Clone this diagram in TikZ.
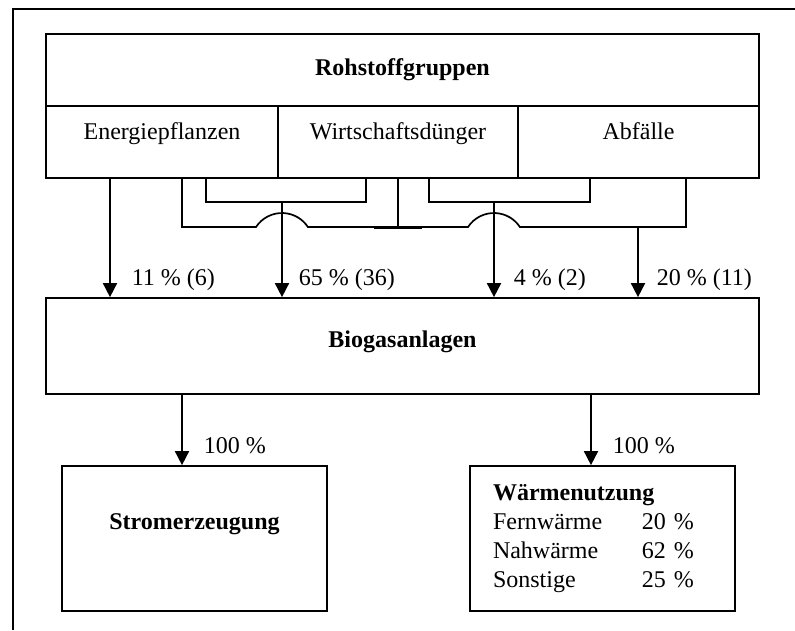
\documentclass[tikz,border=0pt]{standalone}
\usepackage{fontspec}
\setmainfont{Liberation Serif}
\usepackage{tikz}
\usetikzlibrary{arrows.meta,calc}

\begin{document}
\begin{tikzpicture}[
  x=1pt, y=-1pt,
  line width=1.7pt,
  font=\fontsize{24}{29}\selectfont,
  cell/.style={draw, inner sep=0pt, minimum height=72pt},
  subcell/.style={draw, inner xsep=0pt, inner ysep=0pt, minimum width=#1, text height=33pt, text depth=39pt},
  bigbox/.style={draw, inner sep=0pt, minimum width=265pt, minimum height=145pt},
  pct/.style={inner sep=0pt, anchor=base west},
  hop/.style={start angle=146.6, end angle=33.4, radius=31.1pt},
  arrow/.style={-{Triangle[length=14pt,width=14pt]}}
]
  \useasboundingbox (0,0) rectangle (795,630);
  % frame (cut off at right and bottom)
  \draw (13,630) -- (13,9) -- (795,9);

  % Rohstoffgruppen
  \node[cell, minimum width=713pt] (rohstoff) at (402.5,70) {\bfseries Rohstoffgruppen};
  \node[subcell=232pt] (energie) at (162,142) {Energiepflanzen};
  \node[subcell=240pt] (wirtschaft) at (398,142) {Wirtschaftsdünger};
  \node[subcell=241pt] (abfall) at (638.5,142) {Abfälle};

  \node[draw, inner xsep=0pt, inner ysep=0pt, minimum width=713pt, text height=49pt, text depth=47pt] (biogas) at (402.5,346) {\bfseries Biogasanlagen};

  \node[bigbox, inner ysep=0pt, text height=63pt, text depth=82pt] (strom) at (194.5,538.5) {\bfseries Stromerzeugung};
  \node[bigbox, text width=219pt, inner xsep=23pt, align=left] (waerme) at (602.5,538.5)
    {\textbf{Wärmenutzung}\\
     \makebox[149pt][l]{Fernwärme}20 \%\\
     \makebox[149pt][l]{Nahwärme}62 \%\\
     \makebox[149pt][l]{Sonstige}25 \%};

  % columns and rails
  \coordinate (c1) at (110,0);
  \coordinate (c2) at (182,0);
  \coordinate (c3) at (206,0);
  \coordinate (c4) at (282,0);
  \coordinate (c5) at (366,0);
  \coordinate (c6) at (398,0);
  \coordinate (c7) at (429,0);
  \coordinate (c8) at (494,0);
  \coordinate (c9) at (590,0);
  \coordinate (c10) at (638,0);
  \coordinate (c11) at (686,0);
  \coordinate (railA) at (0,202);
  \coordinate (railB) at (0,227);
  \coordinate (d1) at (182,0);
  \coordinate (d2) at (591,0);

  \draw[arrow] (energie.south -| c1) -- (biogas.north -| c1);
  \draw (energie.south -| c3) |- (railA -| c5) -- (wirtschaft.south -| c5);
  \draw (wirtschaft.south -| c7) |- (railA -| c9) -- (abfall.south -| c9);
  \draw (energie.south -| c2) |- ($(railB -| c4)+(-26,0)$) arc[hop]
    -- ($(railB -| c8)+(-26,0)$) arc[hop]
    -| (abfall.south -| c11);
  \draw (wirtschaft.south -| c6) -- (railB -| c6);
  \draw[line width=3pt] ($(railB -| c6)+(-24,0)$) -- ($(railB -| c6)+(24,0)$);
  \draw[arrow] (railA -| c4) -- (biogas.north -| c4);
  \draw[arrow] (railA -| c8) -- (biogas.north -| c8);
  \draw[arrow] (railB -| c10) -- (biogas.north -| c10);

  \node[pct] (p11) at (131,285) {11 \% (6)};
  \node[pct] (p65) at (298,285) {65 \% (36)};
  \node[pct] (p4) at (513,285) {4 \% (2)};
  \node[pct] (p20) at (656,285) {20 \% (11)};

  \draw[arrow] (biogas.south -| d1) -- (strom.north -| d1);
  \draw[arrow] (biogas.south -| d2) -- (waerme.north -| d2);
  \node[pct] (s100) at (203,453) {100 \%};
  \node[pct] (w100) at (612,453) {100 \%};
\end{tikzpicture}
\end{document}
